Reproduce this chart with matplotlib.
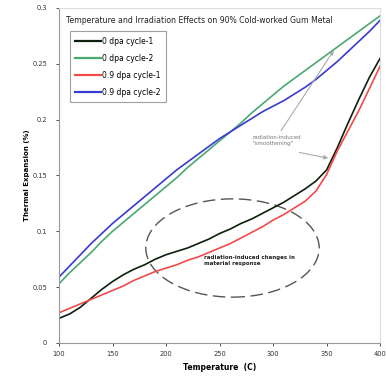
import matplotlib
matplotlib.use("Agg")
import matplotlib.pyplot as plt
from matplotlib.patches import Ellipse

temperature = [100, 110, 120, 130, 140, 150, 160, 170, 180, 190, 200,
               210, 220, 230, 240, 250, 260, 270, 280, 290, 300,
               310, 320, 330, 340, 350, 360, 370, 380, 390, 400]

dpa0_cycle1 = [0.022, 0.026, 0.032, 0.040, 0.048, 0.055, 0.061, 0.066, 0.070, 0.075, 0.079,
               0.082, 0.085, 0.089, 0.093, 0.098, 0.102, 0.107, 0.111, 0.116, 0.121,
               0.126, 0.132, 0.138, 0.145, 0.155, 0.175, 0.197, 0.218, 0.238, 0.255]

dpa0_cycle2 = [0.053, 0.063, 0.072, 0.081, 0.091, 0.100, 0.108, 0.116, 0.124, 0.132, 0.140,
               0.148, 0.157, 0.165, 0.173, 0.181, 0.189, 0.197, 0.206, 0.214, 0.222,
               0.230, 0.237, 0.244, 0.251, 0.258, 0.265, 0.272, 0.279, 0.286, 0.293]

dpa09_cycle1 = [0.027, 0.031, 0.035, 0.039, 0.043, 0.047, 0.051, 0.056, 0.060, 0.064, 0.067,
                0.070, 0.074, 0.077, 0.081, 0.085, 0.089, 0.094, 0.099, 0.104, 0.110,
                0.115, 0.121, 0.127, 0.136, 0.151, 0.172, 0.190, 0.208, 0.228, 0.248]

dpa09_cycle2 = [0.059, 0.069, 0.079, 0.089, 0.098, 0.107, 0.115, 0.123, 0.131, 0.139, 0.147,
                0.155, 0.162, 0.169, 0.176, 0.183, 0.189, 0.195, 0.201, 0.207, 0.212,
                0.217, 0.223, 0.229, 0.236, 0.244, 0.252, 0.261, 0.270, 0.279, 0.289]

series_labels = ["0 dpa cycle-1", "0 dpa cycle-2", "0.9 dpa cycle-1", "0.9 dpa cycle-2"]
series_colors = ["#0d1f0d", "#4aa872", "#f04a4a", "#3a3ad0"]
x_ticks = [100, 150, 200, 250, 300, 350, 400]
y_ticks = [0, 0.05, 0.1, 0.15, 0.2, 0.25, 0.3]
y_tick_labels = ["0", "0.05", "0.1", "0.15", "0.2", "0.25", "0.3"]

fig = plt.figure(figsize=(3.86, 3.76), dpi=100)
ax = fig.add_axes([0.153, 0.088, 0.832, 0.891])

for ys, lab, col in zip([dpa0_cycle1, dpa0_cycle2, dpa09_cycle1, dpa09_cycle2],
                        series_labels, series_colors):
    ax.plot(temperature, ys, color=col, lw=1.2, label=lab, solid_joinstyle="round")

ax.set_xlim(100, 400)
ax.set_ylim(0, 0.3)
ax.set_xticks(x_ticks)
ax.set_xticklabels([str(t) for t in x_ticks])
ax.set_yticks(y_ticks)
ax.set_yticklabels(y_tick_labels)
ax.tick_params(labelsize=4.8, colors="#333333", length=2.5, width=0.6)
ax.tick_params(axis="y", pad=6)
for side in ["left", "bottom"]:
    ax.spines[side].set_color("#999999")
    ax.spines[side].set_linewidth(0.8)
for side in ["right", "top"]:
    ax.spines[side].set_color("#dddddd")
    ax.spines[side].set_linewidth(0.8)

ax.set_xlabel("Temperature  (C)", fontsize=5.5, fontweight="bold", labelpad=4)
ax.set_ylabel("Thermal Expansion (%)", fontsize=5, fontweight="bold", labelpad=2)

ax.text(0.022, 0.962, "Temperature and Irradiation Effects on 90% Cold-worked Gum Metal",
        transform=ax.transAxes, fontsize=5.6, color="#222222", va="center")

leg = ax.legend(loc="upper left", bbox_to_anchor=(0.033, 0.93), fontsize=5.5,
                frameon=True, fancybox=False, handlelength=3.4, handletextpad=0.15,
                borderpad=0.7, labelspacing=1.05, borderaxespad=0.0)
leg.get_frame().set_edgecolor("#888888")
leg.get_frame().set_linewidth(0.8)
for line in leg.get_lines():
    line.set_linewidth(1.6)

ell = Ellipse((262, 0.085), 162, 0.088, fill=False, edgecolor="#555555",
              lw=1.0, linestyle=(0, (9, 4)))
ax.add_patch(ell)
ax.text(235, 0.0735, "radiation-induced changes in\nmaterial response", fontsize=4,
        fontweight="bold", color="#222222", va="center", ha="left", linespacing=1.3)

ax.text(281, 0.181, "radiation-induced\n\"smoothening\"", fontsize=4,
        color="#777777", va="center", ha="left", linespacing=1.3)
arrow = dict(arrowstyle="-|>", color="#aaaaaa", lw=0.8, mutation_scale=6)
ax.annotate("", xy=(358, 0.264), xytext=(306, 0.188), arrowprops=arrow)
ax.annotate("", xy=(354, 0.165), xytext=(322, 0.171), arrowprops=arrow)

fig.savefig("out.png", dpi=100)
